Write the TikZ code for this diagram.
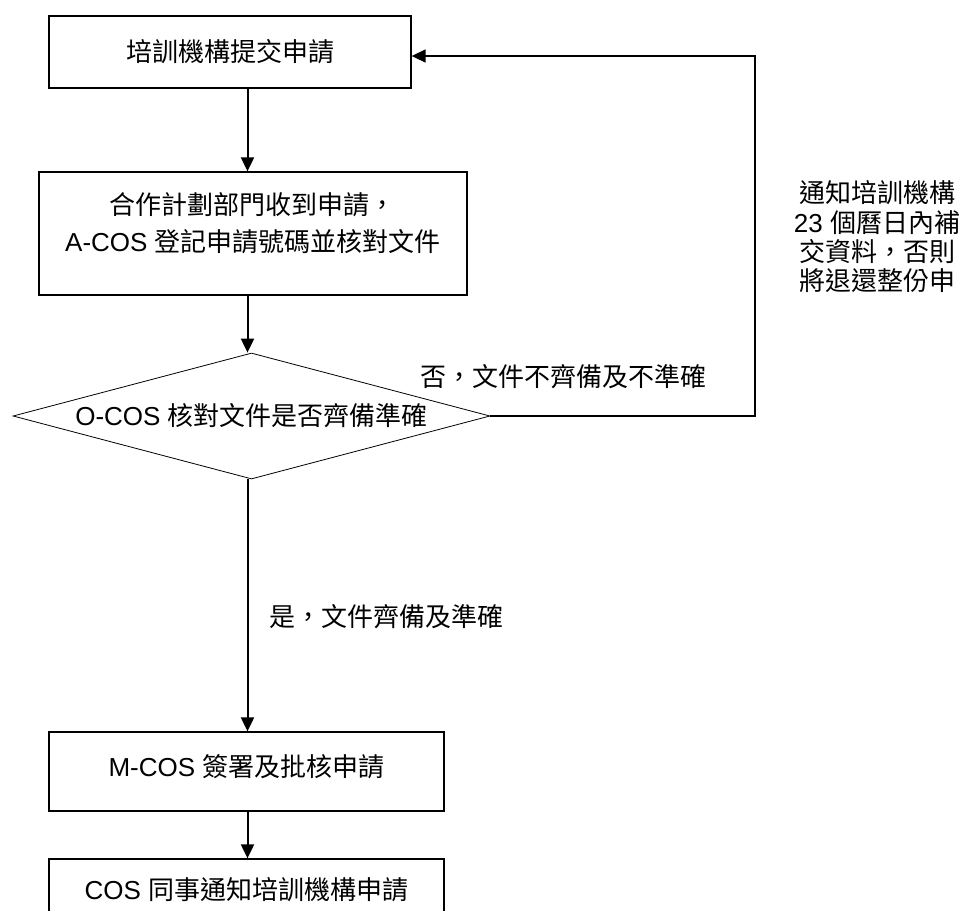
\documentclass[tikz,border=0pt]{standalone}
\usepackage{fontspec}
\setmainfont{Noto Sans CJK TC}[Script=CJK,Language=Chinese Traditional]
\newfontfamily\lat{Liberation Sans}
\usetikzlibrary{arrows.meta,shapes.geometric}
\begin{document}
\begin{tikzpicture}[x=1pt,y=-1pt,
  box/.style={draw,line width=1.3pt,inner sep=0pt,align=center,font=\fontsize{26}{37}\selectfont},
  txt/.style={inner sep=0pt,align=center,font=\fontsize{26}{37}\selectfont},
  sidetxt/.style={inner sep=0pt,align=center,font=\fontsize{26}{29.3}\selectfont},
  decision/.style={draw,line width=0.8pt,shape=diamond,aspect=3.79,inner sep=0pt,
    minimum width=477pt,minimum height=126pt,font=\fontsize{26}{37}\selectfont},
  arr/.style={line width=2pt,-{Triangle[length=14pt,width=13pt]}},
]
\useasboundingbox (0,0) rectangle (962,911);
\clip (0,0) rectangle (962,911);
\fill[white] (0,0) rectangle (962,911);

\node[box,minimum width=362pt,minimum height=72pt] (b1) at (230,52) {培訓機構提交申請};
\node[box,minimum width=428pt,minimum height=123pt] (b2) at (253,233.5) {};
\node[txt] (t2) at (253,223.5) {合作計劃部門收到申請，\\{\lat A-COS }登記申請號碼並核對文件};
\node[decision] (d) at (251.5,416) {{\lat O-COS }核對文件是否齊備準確};
\node[box,minimum width=395pt,minimum height=79pt] (b3) at (246.5,771.5) {};
\node[txt] (t3) at (246.5,767) {{\lat M-COS }簽署及批核申請};
\node[box,minimum width=395pt,minimum height=62pt] (b4) at (246.5,890) {{\lat COS }同事通知培訓機構申請};

\node[txt] (no) at (563.5,377) {否，文件不齊備及不準確};
\node[txt] (yes) at (386.5,617) {是，文件齊備及準確};
\node[sidetxt] (side) at (877,237) {通知培訓機構\\{\lat 23 }個曆日內補\\交資料，否則\\將退還整份申};

\coordinate (ax) at (247.5,0);
\coordinate (rx) at (755,56);
\draw[arr] (b1.south -| ax) -- (b2.north -| ax);
\draw[arr] (b2.south -| ax) -- (d.north -| ax);
\draw[arr] (d.south -| ax) -- (b3.north -| ax);
\draw[arr] (b3.south -| ax) -- (b4.north -| ax);
\draw[arr,line width=1.6pt] (d.east) -| (rx) -- (b1.east |- rx);
\end{tikzpicture}
\end{document}
